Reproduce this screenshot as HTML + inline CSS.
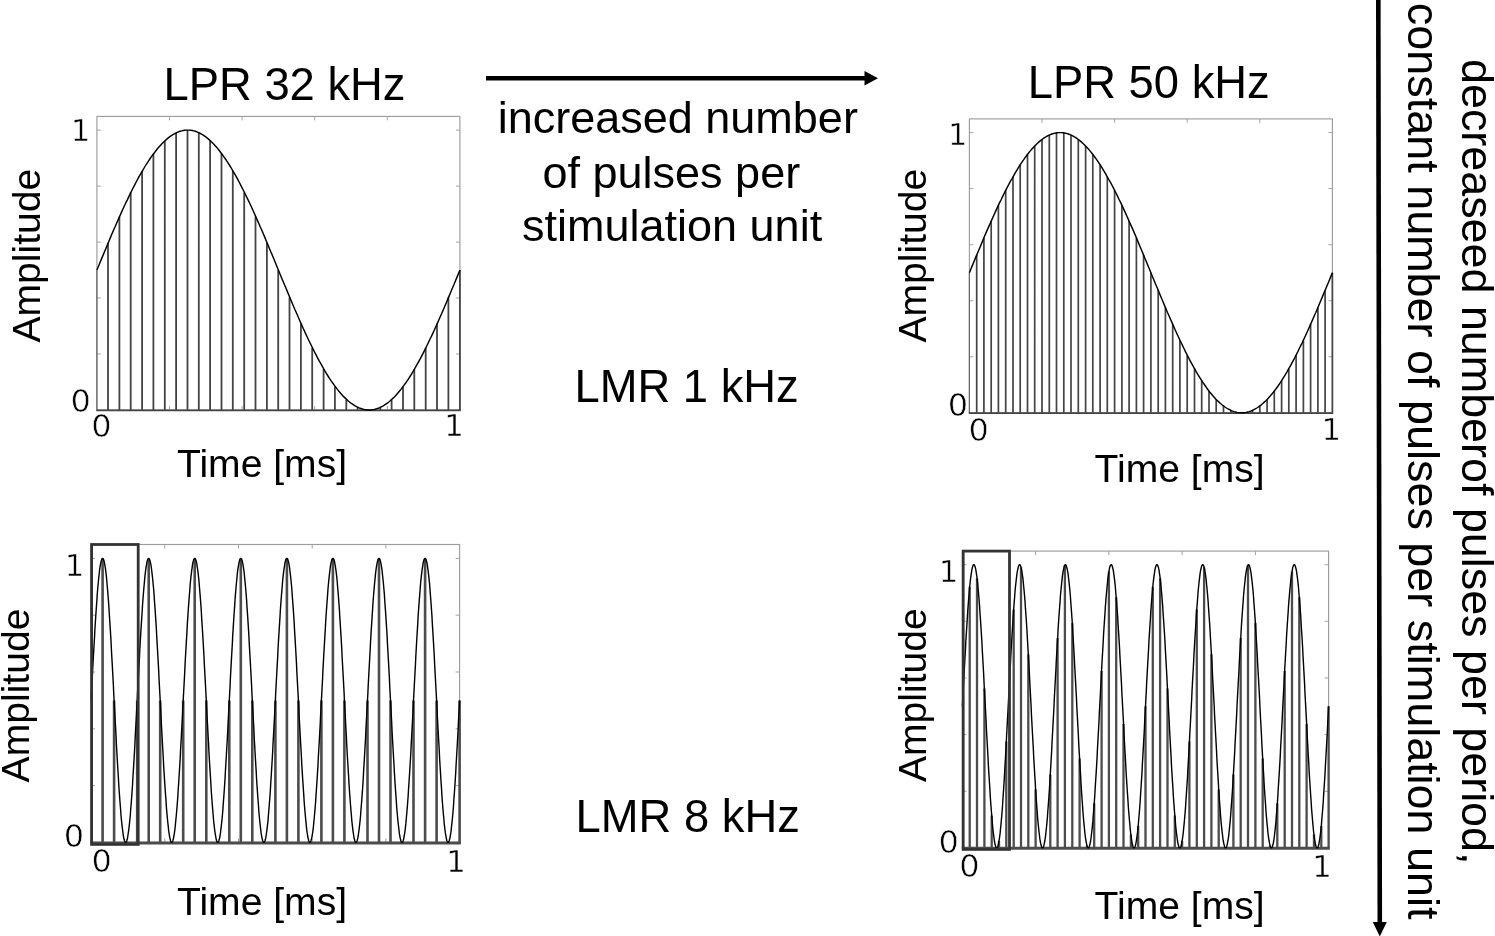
<!DOCTYPE html>
<html lang="en"><head><meta charset="utf-8"><title>LPR / LMR pulse figure</title>
<style>
html,body{margin:0;padding:0;background:#fff;}
body{width:1495px;height:936px;overflow:hidden;}
svg{display:block;}
.a{font-family:"Liberation Sans",sans-serif;fill:#000;}
.t{font-size:45px;}
.h{font-size:45.35px;}
.l{font-size:39.1px;}
.n{font-family:"DejaVu Sans","Liberation Sans",sans-serif;font-size:32px;fill:#000;stroke:#fff;stroke-width:0.55px;}
.o{font-size:30.7px;}
</style></head><body>
<svg width="1495" height="936" viewBox="0 0 1495 936">
<rect x="0" y="0" width="1495" height="936" fill="#fff"/>
<g>
<rect x="96.9" y="116.4" width="363" height="293.6" fill="none" stroke="#9c9c9c" stroke-width="1.15"/>
<path d="M169.5 116.4v4M169.5 410v-4M242.1 116.4v4M242.1 410v-4M314.7 116.4v4M314.7 410v-4M387.3 116.4v4M387.3 410v-4M96.9 410h4M459.9 410h-4M96.9 354h4M459.9 354h-4M96.9 298h4M459.9 298h-4M96.9 242.1h4M459.9 242.1h-4M96.9 186.1h4M459.9 186.1h-4M96.9 130.1h4M459.9 130.1h-4" stroke="#a3a3a3" stroke-width="1" fill="none"/>
<path d="M96.9 410V270.1" stroke="#666" stroke-width="1.2" fill="none"/>
<path d="M108 410V242.7M119.4 410V216.5M130.7 410V192.3M142.1 410V171.1M153.4 410V153.7M164.8 410V140.8M176.1 410V132.8M187.5 410V130.1M198.8 410V132.8M210.1 410V140.8M221.5 410V153.7M232.8 410V171.1M244.2 410V192.3M255.5 410V216.5M266.9 410V242.7M278.2 410V270M289.5 410V297.4M300.9 410V323.6M312.2 410V347.8M323.6 410V369M334.9 410V386.4M346.3 410V399.3M357.6 410V407.3M380.3 410V407.3M391.6 410V399.3M403 410V386.4M414.3 410V369M425.7 410V347.8M437 410V323.6M448.4 410V297.4M459.9 410V270.1" stroke="#444" stroke-width="1.8" fill="none"/>
<path d="M96.3 410.4H460.8" stroke="#444" stroke-width="1.8" fill="none"/>
<path d="M96.9 270.1L98.4 266.4L99.9 262.7L101.4 259.1L103 255.4L104.5 251.8L106 248.2L107.5 244.5L109 241L110.5 237.4L112 233.8L113.5 230.3L115.1 226.8L116.6 223.3L118.1 219.9L119.6 216.5L121.1 213.1L122.6 209.8L124.1 206.5L125.6 203.3L127.2 200.1L128.7 196.9L130.2 193.8L131.7 190.8L133.2 187.8L134.7 184.9L136.2 182L137.7 179.2L139.2 176.4L140.8 173.7L142.3 171.1L143.8 168.5L145.3 166L146.8 163.6L148.3 161.3L149.8 159L151.3 156.8L152.9 154.7L154.4 152.7L155.9 150.7L157.4 148.8L158.9 147.1L160.4 145.4L161.9 143.7L163.4 142.2L165 140.8L166.5 139.4L168 138.1L169.5 136.9L171 135.9L172.5 134.9L174 134L175.6 133.2L177.1 132.4L178.6 131.8L180.1 131.3L181.6 130.9L183.1 130.5L184.6 130.3L186.1 130.1L187.7 130.1L189.2 130.1L190.7 130.3L192.2 130.5L193.7 130.9L195.2 131.3L196.7 131.8L198.2 132.4L199.8 133.2L201.3 134L202.8 134.9L204.3 135.9L205.8 136.9L207.3 138.1L208.8 139.4L210.3 140.8L211.8 142.2L213.4 143.7L214.9 145.4L216.4 147.1L217.9 148.8L219.4 150.7L220.9 152.7L222.4 154.7L223.9 156.8L225.5 159L227 161.3L228.5 163.6L230 166L231.5 168.5L233 171.1L234.5 173.7L236.1 176.4L237.6 179.2L239.1 182L240.6 184.9L242.1 187.8L243.6 190.8L245.1 193.8L246.6 196.9L248.2 200.1L249.7 203.3L251.2 206.5L252.7 209.8L254.2 213.1L255.7 216.5L257.2 219.9L258.7 223.3L260.2 226.8L261.8 230.3L263.3 233.8L264.8 237.4L266.3 241L267.8 244.5L269.3 248.2L270.8 251.8L272.4 255.4L273.9 259.1L275.4 262.7L276.9 266.4L278.4 270L279.9 273.7L281.4 277.4L282.9 281L284.5 284.7L286 288.3L287.5 291.9L289 295.6L290.5 299.1L292 302.7L293.5 306.3L295 309.8L296.6 313.3L298.1 316.8L299.6 320.2L301.1 323.6L302.6 327L304.1 330.3L305.6 333.6L307.1 336.8L308.6 340L310.2 343.2L311.7 346.3L313.2 349.3L314.7 352.3L316.2 355.2L317.7 358.1L319.2 360.9L320.8 363.7L322.3 366.4L323.8 369L325.3 371.6L326.8 374.1L328.3 376.5L329.8 378.8L331.3 381.1L332.9 383.3L334.4 385.4L335.9 387.4L337.4 389.4L338.9 391.3L340.4 393L341.9 394.7L343.4 396.4L345 397.9L346.5 399.3L348 400.7L349.5 402L351 403.2L352.5 404.2L354 405.2L355.5 406.1L357 406.9L358.6 407.7L360.1 408.3L361.6 408.8L363.1 409.2L364.6 409.6L366.1 409.8L367.6 410L369.1 410L370.7 410L372.2 409.8L373.7 409.6L375.2 409.2L376.7 408.8L378.2 408.3L379.7 407.7L381.2 406.9L382.8 406.1L384.3 405.2L385.8 404.2L387.3 403.2L388.8 402L390.3 400.7L391.8 399.3L393.4 397.9L394.9 396.4L396.4 394.7L397.9 393L399.4 391.3L400.9 389.4L402.4 387.4L403.9 385.4L405.5 383.3L407 381.1L408.5 378.8L410 376.5L411.5 374.1L413 371.6L414.5 369L416 366.4L417.5 363.7L419.1 360.9L420.6 358.1L422.1 355.2L423.6 352.3L425.1 349.3L426.6 346.3L428.1 343.2L429.6 340L431.2 336.8L432.7 333.6L434.2 330.3L435.7 327L437.2 323.6L438.7 320.2L440.2 316.8L441.8 313.3L443.3 309.8L444.8 306.3L446.3 302.7L447.8 299.1L449.3 295.6L450.8 291.9L452.3 288.3L453.9 284.7L455.4 281L456.9 277.4L458.4 273.7L459.9 270.1" stroke="#000" stroke-width="1.45" fill="none" stroke-linejoin="round"/>
</g><g>
<rect x="969.4" y="118.9" width="363" height="293.9" fill="none" stroke="#9c9c9c" stroke-width="1.15"/>
<path d="M1042 118.9v4M1042 412.8v-4M1114.6 118.9v4M1114.6 412.8v-4M1187.2 118.9v4M1187.2 412.8v-4M1259.8 118.9v4M1259.8 412.8v-4M969.4 412.8h4M1332.4 412.8h-4M969.4 356.8h4M1332.4 356.8h-4M969.4 300.7h4M1332.4 300.7h-4M969.4 244.7h4M1332.4 244.7h-4M969.4 188.6h4M1332.4 188.6h-4M969.4 132.6h4M1332.4 132.6h-4" stroke="#a3a3a3" stroke-width="1" fill="none"/>
<path d="M969.4 412.8V272.7" stroke="#666" stroke-width="1.2" fill="none"/>
<path d="M976.7 412.8V255.1M983.9 412.8V237.9M991.2 412.8V221.1M998.4 412.8V205.2M1005.7 412.8V190.4M1013 412.8V176.8M1020.2 412.8V164.8M1027.5 412.8V154.4M1034.7 412.8V145.9M1042 412.8V139.5M1049.3 412.8V135.1M1056.5 412.8V132.9M1063.8 412.8V132.9M1071 412.8V135.1M1078.3 412.8V139.5M1085.6 412.8V145.9M1092.8 412.8V154.4M1100.1 412.8V164.8M1107.3 412.8V176.8M1114.6 412.8V190.4M1121.9 412.8V205.2M1129.1 412.8V221.1M1136.4 412.8V237.9M1143.6 412.8V255.1M1150.9 412.8V272.7M1158.2 412.8V290.3M1165.4 412.8V307.5M1172.7 412.8V324.3M1179.9 412.8V340.2M1187.2 412.8V355M1194.5 412.8V368.6M1201.7 412.8V380.6M1209 412.8V391M1216.2 412.8V399.5M1223.5 412.8V405.9M1230.8 412.8V410.3M1252.5 412.8V410.3M1259.8 412.8V405.9M1267.1 412.8V399.5M1274.3 412.8V391M1281.6 412.8V380.6M1288.8 412.8V368.6M1296.1 412.8V355M1303.4 412.8V340.2M1310.6 412.8V324.3M1317.9 412.8V307.5M1325.1 412.8V290.3M1332.4 412.8V272.7" stroke="#444" stroke-width="1.7" fill="none"/>
<path d="M968.8 413.1H1333.2" stroke="#444" stroke-width="1.8" fill="none"/>
<path d="M969.4 272.7L970.9 269L972.4 265.4L973.9 261.7L975.4 258.1L977 254.4L978.5 250.8L980 247.2L981.5 243.6L983 240L984.5 236.4L986 232.9L987.5 229.4L989.1 225.9L990.6 222.5L992.1 219.1L993.6 215.7L995.1 212.4L996.6 209.1L998.1 205.9L999.6 202.6L1001.2 199.5L1002.7 196.4L1004.2 193.3L1005.7 190.4L1007.2 187.4L1008.7 184.5L1010.2 181.7L1011.8 179L1013.3 176.3L1014.8 173.6L1016.3 171.1L1017.8 168.6L1019.3 166.2L1020.8 163.8L1022.3 161.6L1023.9 159.4L1025.4 157.2L1026.9 155.2L1028.4 153.2L1029.9 151.4L1031.4 149.6L1032.9 147.9L1034.4 146.2L1036 144.7L1037.5 143.3L1039 141.9L1040.5 140.6L1042 139.5L1043.5 138.4L1045 137.4L1046.5 136.5L1048 135.7L1049.6 134.9L1051.1 134.3L1052.6 133.8L1054.1 133.4L1055.6 133L1057.1 132.8L1058.6 132.6L1060.2 132.6L1061.7 132.6L1063.2 132.8L1064.7 133L1066.2 133.4L1067.7 133.8L1069.2 134.3L1070.7 134.9L1072.2 135.7L1073.8 136.5L1075.3 137.4L1076.8 138.4L1078.3 139.5L1079.8 140.6L1081.3 141.9L1082.8 143.3L1084.3 144.7L1085.9 146.2L1087.4 147.9L1088.9 149.6L1090.4 151.4L1091.9 153.2L1093.4 155.2L1094.9 157.2L1096.5 159.4L1098 161.6L1099.5 163.8L1101 166.2L1102.5 168.6L1104 171.1L1105.5 173.6L1107 176.3L1108.5 179L1110.1 181.7L1111.6 184.5L1113.1 187.4L1114.6 190.4L1116.1 193.3L1117.6 196.4L1119.1 199.5L1120.7 202.6L1122.2 205.9L1123.7 209.1L1125.2 212.4L1126.7 215.7L1128.2 219.1L1129.7 222.5L1131.2 225.9L1132.8 229.4L1134.3 232.9L1135.8 236.4L1137.3 240L1138.8 243.6L1140.3 247.2L1141.8 250.8L1143.3 254.4L1144.8 258.1L1146.4 261.7L1147.9 265.4L1149.4 269L1150.9 272.7L1152.4 276.4L1153.9 280L1155.4 283.7L1157 287.3L1158.5 291L1160 294.6L1161.5 298.2L1163 301.8L1164.5 305.4L1166 309L1167.5 312.5L1169.1 316L1170.6 319.5L1172.1 322.9L1173.6 326.3L1175.1 329.7L1176.6 333L1178.1 336.3L1179.6 339.5L1181.2 342.8L1182.7 345.9L1184.2 349L1185.7 352.1L1187.2 355L1188.7 358L1190.2 360.9L1191.7 363.7L1193.2 366.4L1194.8 369.1L1196.3 371.8L1197.8 374.3L1199.3 376.8L1200.8 379.2L1202.3 381.6L1203.8 383.8L1205.4 386L1206.9 388.2L1208.4 390.2L1209.9 392.2L1211.4 394L1212.9 395.8L1214.4 397.5L1215.9 399.2L1217.5 400.7L1219 402.1L1220.5 403.5L1222 404.8L1223.5 405.9L1225 407L1226.5 408L1228 408.9L1229.6 409.7L1231.1 410.5L1232.6 411.1L1234.1 411.6L1235.6 412L1237.1 412.4L1238.6 412.6L1240.1 412.8L1241.7 412.8L1243.2 412.8L1244.7 412.6L1246.2 412.4L1247.7 412L1249.2 411.6L1250.7 411.1L1252.2 410.5L1253.8 409.7L1255.3 408.9L1256.8 408L1258.3 407L1259.8 405.9L1261.3 404.8L1262.8 403.5L1264.3 402.1L1265.9 400.7L1267.4 399.2L1268.9 397.5L1270.4 395.8L1271.9 394L1273.4 392.2L1274.9 390.2L1276.4 388.2L1278 386L1279.5 383.8L1281 381.6L1282.5 379.2L1284 376.8L1285.5 374.3L1287 371.8L1288.5 369.1L1290.1 366.4L1291.6 363.7L1293.1 360.9L1294.6 358L1296.1 355L1297.6 352.1L1299.1 349L1300.6 345.9L1302.2 342.8L1303.7 339.5L1305.2 336.3L1306.7 333L1308.2 329.7L1309.7 326.3L1311.2 322.9L1312.7 319.5L1314.2 316L1315.8 312.5L1317.3 309L1318.8 305.4L1320.3 301.8L1321.8 298.2L1323.3 294.6L1324.8 291L1326.4 287.3L1327.9 283.7L1329.4 280L1330.9 276.4L1332.4 272.7" stroke="#000" stroke-width="1.45" fill="none" stroke-linejoin="round"/>
</g><g>
<rect x="91.1" y="544.5" width="368.5" height="297.9" fill="none" stroke="#9c9c9c" stroke-width="1.15"/>
<path d="M164.8 544.5v4M164.8 842.4v-4M238.5 544.5v4M238.5 842.4v-4M312.2 544.5v4M312.2 842.4v-4M385.9 544.5v4M385.9 842.4v-4M91.1 842.4h4M459.6 842.4h-4M91.1 785.6h4M459.6 785.6h-4M91.1 728.8h4M459.6 728.8h-4M91.1 672h4M459.6 672h-4M91.1 615.2h4M459.6 615.2h-4M91.1 558.4h4M459.6 558.4h-4" stroke="#a3a3a3" stroke-width="1" fill="none"/>
<path d="M102.6 842.4V558.4M114.1 842.4V700.4M137.2 842.4V700.4M148.7 842.4V558.4M160.2 842.4V700.4M183.2 842.4V700.4M194.7 842.4V558.4M206.3 842.4V700.4M229.3 842.4V700.4M240.8 842.4V558.4M252.3 842.4V700.4M275.4 842.4V700.4M286.9 842.4V558.4M298.4 842.4V700.4M321.4 842.4V700.4M332.9 842.4V558.4M344.4 842.4V700.4M367.5 842.4V700.4M379 842.4V558.4M390.5 842.4V700.4M413.5 842.4V700.4M425.1 842.4V558.4M436.6 842.4V700.4M459.6 842.4V700.4" stroke="#4c4c4c" stroke-width="2.6" fill="none"/>
<path d="M90.5 843H460.9" stroke="#4c4c4c" stroke-width="3.0" fill="none"/>
<path d="M91.1 700.4L91.5 693L91.9 685.6L92.3 678.2L92.6 670.9L93 663.6L93.4 656.5L93.8 649.5L94.2 642.6L94.6 635.9L94.9 629.4L95.3 623.1L95.7 616.9L96.1 611L96.5 605.4L96.9 600L97.2 594.9L97.6 590L98 585.5L98.4 581.3L98.8 577.4L99.2 573.9L99.5 570.7L99.9 567.8L100.3 565.3L100.7 563.2L101.1 561.5L101.5 560.1L101.8 559.2L102.2 558.6L102.6 558.4L103 558.6L103.4 559.2L103.8 560.1L104.2 561.5L104.5 563.2L104.9 565.3L105.3 567.8L105.7 570.7L106.1 573.9L106.5 577.4L106.8 581.3L107.2 585.5L107.6 590L108 594.9L108.4 600L108.8 605.4L109.1 611L109.5 616.9L109.9 623.1L110.3 629.4L110.7 635.9L111.1 642.6L111.4 649.5L111.8 656.5L112.2 663.6L112.6 670.9L113 678.2L113.4 685.6L113.7 693L114.1 700.4L114.5 707.8L114.9 715.2L115.3 722.6L115.7 729.9L116.1 737.2L116.4 744.3L116.8 751.3L117.2 758.2L117.6 764.9L118 771.4L118.4 777.7L118.7 783.9L119.1 789.8L119.5 795.4L119.9 800.8L120.3 805.9L120.7 810.8L121 815.3L121.4 819.5L121.8 823.4L122.2 826.9L122.6 830.1L123 833L123.3 835.5L123.7 837.6L124.1 839.3L124.5 840.7L124.9 841.6L125.3 842.2L125.6 842.4L126 842.2L126.4 841.6L126.8 840.7L127.2 839.3L127.6 837.6L127.9 835.5L128.3 833L128.7 830.1L129.1 826.9L129.5 823.4L129.9 819.5L130.3 815.3L130.6 810.8L131 805.9L131.4 800.8L131.8 795.4L132.2 789.8L132.6 783.9L132.9 777.7L133.3 771.4L133.7 764.9L134.1 758.2L134.5 751.3L134.9 744.3L135.2 737.2L135.6 729.9L136 722.6L136.4 715.2L136.8 707.8L137.2 700.4L137.5 693L137.9 685.6L138.3 678.2L138.7 670.9L139.1 663.6L139.5 656.5L139.8 649.5L140.2 642.6L140.6 635.9L141 629.4L141.4 623.1L141.8 616.9L142.2 611L142.5 605.4L142.9 600L143.3 594.9L143.7 590L144.1 585.5L144.5 581.3L144.8 577.4L145.2 573.9L145.6 570.7L146 567.8L146.4 565.3L146.8 563.2L147.1 561.5L147.5 560.1L147.9 559.2L148.3 558.6L148.7 558.4L149.1 558.6L149.4 559.2L149.8 560.1L150.2 561.5L150.6 563.2L151 565.3L151.4 567.8L151.7 570.7L152.1 573.9L152.5 577.4L152.9 581.3L153.3 585.5L153.7 590L154.1 594.9L154.4 600L154.8 605.4L155.2 611L155.6 616.9L156 623.1L156.4 629.4L156.7 635.9L157.1 642.6L157.5 649.5L157.9 656.5L158.3 663.6L158.7 670.9L159 678.2L159.4 685.6L159.8 693L160.2 700.4L160.6 707.8L161 715.2L161.3 722.6L161.7 729.9L162.1 737.2L162.5 744.3L162.9 751.3L163.3 758.2L163.6 764.9L164 771.4L164.4 777.7L164.8 783.9L165.2 789.8L165.6 795.4L166 800.8L166.3 805.9L166.7 810.8L167.1 815.3L167.5 819.5L167.9 823.4L168.3 826.9L168.6 830.1L169 833L169.4 835.5L169.8 837.6L170.2 839.3L170.6 840.7L170.9 841.6L171.3 842.2L171.7 842.4L172.1 842.2L172.5 841.6L172.9 840.7L173.2 839.3L173.6 837.6L174 835.5L174.4 833L174.8 830.1L175.2 826.9L175.5 823.4L175.9 819.5L176.3 815.3L176.7 810.8L177.1 805.9L177.5 800.8L177.9 795.4L178.2 789.8L178.6 783.9L179 777.7L179.4 771.4L179.8 764.9L180.2 758.2L180.5 751.3L180.9 744.3L181.3 737.2L181.7 729.9L182.1 722.6L182.5 715.2L182.8 707.8L183.2 700.4L183.6 693L184 685.6L184.4 678.2L184.8 670.9L185.1 663.6L185.5 656.5L185.9 649.5L186.3 642.6L186.7 635.9L187.1 629.4L187.4 623.1L187.8 616.9L188.2 611L188.6 605.4L189 600L189.4 594.9L189.8 590L190.1 585.5L190.5 581.3L190.9 577.4L191.3 573.9L191.7 570.7L192.1 567.8L192.4 565.3L192.8 563.2L193.2 561.5L193.6 560.1L194 559.2L194.4 558.6L194.7 558.4L195.1 558.6L195.5 559.2L195.9 560.1L196.3 561.5L196.7 563.2L197 565.3L197.4 567.8L197.8 570.7L198.2 573.9L198.6 577.4L199 581.3L199.3 585.5L199.7 590L200.1 594.9L200.5 600L200.9 605.4L201.3 611L201.6 616.9L202 623.1L202.4 629.4L202.8 635.9L203.2 642.6L203.6 649.5L204 656.5L204.3 663.6L204.7 670.9L205.1 678.2L205.5 685.6L205.9 693L206.3 700.4L206.6 707.8L207 715.2L207.4 722.6L207.8 729.9L208.2 737.2L208.6 744.3L208.9 751.3L209.3 758.2L209.7 764.9L210.1 771.4L210.5 777.7L210.9 783.9L211.2 789.8L211.6 795.4L212 800.8L212.4 805.9L212.8 810.8L213.2 815.3L213.5 819.5L213.9 823.4L214.3 826.9L214.7 830.1L215.1 833L215.5 835.5L215.9 837.6L216.2 839.3L216.6 840.7L217 841.6L217.4 842.2L217.8 842.4L218.2 842.2L218.5 841.6L218.9 840.7L219.3 839.3L219.7 837.6L220.1 835.5L220.5 833L220.8 830.1L221.2 826.9L221.6 823.4L222 819.5L222.4 815.3L222.8 810.8L223.1 805.9L223.5 800.8L223.9 795.4L224.3 789.8L224.7 783.9L225.1 777.7L225.4 771.4L225.8 764.9L226.2 758.2L226.6 751.3L227 744.3L227.4 737.2L227.8 729.9L228.1 722.6L228.5 715.2L228.9 707.8L229.3 700.4L229.7 693L230.1 685.6L230.4 678.2L230.8 670.9L231.2 663.6L231.6 656.5L232 649.5L232.4 642.6L232.7 635.9L233.1 629.4L233.5 623.1L233.9 616.9L234.3 611L234.7 605.4L235 600L235.4 594.9L235.8 590L236.2 585.5L236.6 581.3L237 577.4L237.3 573.9L237.7 570.7L238.1 567.8L238.5 565.3L238.9 563.2L239.3 561.5L239.7 560.1L240 559.2L240.4 558.6L240.8 558.4L241.2 558.6L241.6 559.2L242 560.1L242.3 561.5L242.7 563.2L243.1 565.3L243.5 567.8L243.9 570.7L244.3 573.9L244.6 577.4L245 581.3L245.4 585.5L245.8 590L246.2 594.9L246.6 600L246.9 605.4L247.3 611L247.7 616.9L248.1 623.1L248.5 629.4L248.9 635.9L249.2 642.6L249.6 649.5L250 656.5L250.4 663.6L250.8 670.9L251.2 678.2L251.6 685.6L251.9 693L252.3 700.4L252.7 707.8L253.1 715.2L253.5 722.6L253.9 729.9L254.2 737.2L254.6 744.3L255 751.3L255.4 758.2L255.8 764.9L256.2 771.4L256.5 777.7L256.9 783.9L257.3 789.8L257.7 795.4L258.1 800.8L258.5 805.9L258.8 810.8L259.2 815.3L259.6 819.5L260 823.4L260.4 826.9L260.8 830.1L261.1 833L261.5 835.5L261.9 837.6L262.3 839.3L262.7 840.7L263.1 841.6L263.5 842.2L263.8 842.4L264.2 842.2L264.6 841.6L265 840.7L265.4 839.3L265.8 837.6L266.1 835.5L266.5 833L266.9 830.1L267.3 826.9L267.7 823.4L268.1 819.5L268.4 815.3L268.8 810.8L269.2 805.9L269.6 800.8L270 795.4L270.4 789.8L270.7 783.9L271.1 777.7L271.5 771.4L271.9 764.9L272.3 758.2L272.7 751.3L273 744.3L273.4 737.2L273.8 729.9L274.2 722.6L274.6 715.2L275 707.8L275.4 700.4L275.7 693L276.1 685.6L276.5 678.2L276.9 670.9L277.3 663.6L277.7 656.5L278 649.5L278.4 642.6L278.8 635.9L279.2 629.4L279.6 623.1L280 616.9L280.3 611L280.7 605.4L281.1 600L281.5 594.9L281.9 590L282.3 585.5L282.6 581.3L283 577.4L283.4 573.9L283.8 570.7L284.2 567.8L284.6 565.3L284.9 563.2L285.3 561.5L285.7 560.1L286.1 559.2L286.5 558.6L286.9 558.4L287.2 558.6L287.6 559.2L288 560.1L288.4 561.5L288.8 563.2L289.2 565.3L289.6 567.8L289.9 570.7L290.3 573.9L290.7 577.4L291.1 581.3L291.5 585.5L291.9 590L292.2 594.9L292.6 600L293 605.4L293.4 611L293.8 616.9L294.2 623.1L294.5 629.4L294.9 635.9L295.3 642.6L295.7 649.5L296.1 656.5L296.5 663.6L296.8 670.9L297.2 678.2L297.6 685.6L298 693L298.4 700.4L298.8 707.8L299.1 715.2L299.5 722.6L299.9 729.9L300.3 737.2L300.7 744.3L301.1 751.3L301.5 758.2L301.8 764.9L302.2 771.4L302.6 777.7L303 783.9L303.4 789.8L303.8 795.4L304.1 800.8L304.5 805.9L304.9 810.8L305.3 815.3L305.7 819.5L306.1 823.4L306.4 826.9L306.8 830.1L307.2 833L307.6 835.5L308 837.6L308.4 839.3L308.7 840.7L309.1 841.6L309.5 842.2L309.9 842.4L310.3 842.2L310.7 841.6L311 840.7L311.4 839.3L311.8 837.6L312.2 835.5L312.6 833L313 830.1L313.4 826.9L313.7 823.4L314.1 819.5L314.5 815.3L314.9 810.8L315.3 805.9L315.7 800.8L316 795.4L316.4 789.8L316.8 783.9L317.2 777.7L317.6 771.4L318 764.9L318.3 758.2L318.7 751.3L319.1 744.3L319.5 737.2L319.9 729.9L320.3 722.6L320.6 715.2L321 707.8L321.4 700.4L321.8 693L322.2 685.6L322.6 678.2L322.9 670.9L323.3 663.6L323.7 656.5L324.1 649.5L324.5 642.6L324.9 635.9L325.3 629.4L325.6 623.1L326 616.9L326.4 611L326.8 605.4L327.2 600L327.6 594.9L327.9 590L328.3 585.5L328.7 581.3L329.1 577.4L329.5 573.9L329.9 570.7L330.2 567.8L330.6 565.3L331 563.2L331.4 561.5L331.8 560.1L332.2 559.2L332.5 558.6L332.9 558.4L333.3 558.6L333.7 559.2L334.1 560.1L334.5 561.5L334.8 563.2L335.2 565.3L335.6 567.8L336 570.7L336.4 573.9L336.8 577.4L337.2 581.3L337.5 585.5L337.9 590L338.3 594.9L338.7 600L339.1 605.4L339.5 611L339.8 616.9L340.2 623.1L340.6 629.4L341 635.9L341.4 642.6L341.8 649.5L342.1 656.5L342.5 663.6L342.9 670.9L343.3 678.2L343.7 685.6L344.1 693L344.4 700.4L344.8 707.8L345.2 715.2L345.6 722.6L346 729.9L346.4 737.2L346.7 744.3L347.1 751.3L347.5 758.2L347.9 764.9L348.3 771.4L348.7 777.7L349 783.9L349.4 789.8L349.8 795.4L350.2 800.8L350.6 805.9L351 810.8L351.4 815.3L351.7 819.5L352.1 823.4L352.5 826.9L352.9 830.1L353.3 833L353.7 835.5L354 837.6L354.4 839.3L354.8 840.7L355.2 841.6L355.6 842.2L356 842.4L356.3 842.2L356.7 841.6L357.1 840.7L357.5 839.3L357.9 837.6L358.3 835.5L358.6 833L359 830.1L359.4 826.9L359.8 823.4L360.2 819.5L360.6 815.3L360.9 810.8L361.3 805.9L361.7 800.8L362.1 795.4L362.5 789.8L362.9 783.9L363.3 777.7L363.6 771.4L364 764.9L364.4 758.2L364.8 751.3L365.2 744.3L365.6 737.2L365.9 729.9L366.3 722.6L366.7 715.2L367.1 707.8L367.5 700.4L367.9 693L368.2 685.6L368.6 678.2L369 670.9L369.4 663.6L369.8 656.5L370.2 649.5L370.5 642.6L370.9 635.9L371.3 629.4L371.7 623.1L372.1 616.9L372.5 611L372.8 605.4L373.2 600L373.6 594.9L374 590L374.4 585.5L374.8 581.3L375.2 577.4L375.5 573.9L375.9 570.7L376.3 567.8L376.7 565.3L377.1 563.2L377.5 561.5L377.8 560.1L378.2 559.2L378.6 558.6L379 558.4L379.4 558.6L379.8 559.2L380.1 560.1L380.5 561.5L380.9 563.2L381.3 565.3L381.7 567.8L382.1 570.7L382.4 573.9L382.8 577.4L383.2 581.3L383.6 585.5L384 590L384.4 594.9L384.7 600L385.1 605.4L385.5 611L385.9 616.9L386.3 623.1L386.7 629.4L387.1 635.9L387.4 642.6L387.8 649.5L388.2 656.5L388.6 663.6L389 670.9L389.4 678.2L389.7 685.6L390.1 693L390.5 700.4L390.9 707.8L391.3 715.2L391.7 722.6L392 729.9L392.4 737.2L392.8 744.3L393.2 751.3L393.6 758.2L394 764.9L394.3 771.4L394.7 777.7L395.1 783.9L395.5 789.8L395.9 795.4L396.3 800.8L396.6 805.9L397 810.8L397.4 815.3L397.8 819.5L398.2 823.4L398.6 826.9L399 830.1L399.3 833L399.7 835.5L400.1 837.6L400.5 839.3L400.9 840.7L401.3 841.6L401.6 842.2L402 842.4L402.4 842.2L402.8 841.6L403.2 840.7L403.6 839.3L403.9 837.6L404.3 835.5L404.7 833L405.1 830.1L405.5 826.9L405.9 823.4L406.2 819.5L406.6 815.3L407 810.8L407.4 805.9L407.8 800.8L408.2 795.4L408.5 789.8L408.9 783.9L409.3 777.7L409.7 771.4L410.1 764.9L410.5 758.2L410.9 751.3L411.2 744.3L411.6 737.2L412 729.9L412.4 722.6L412.8 715.2L413.2 707.8L413.5 700.4L413.9 693L414.3 685.6L414.7 678.2L415.1 670.9L415.5 663.6L415.8 656.5L416.2 649.5L416.6 642.6L417 635.9L417.4 629.4L417.8 623.1L418.1 616.9L418.5 611L418.9 605.4L419.3 600L419.7 594.9L420.1 590L420.4 585.5L420.8 581.3L421.2 577.4L421.6 573.9L422 570.7L422.4 567.8L422.8 565.3L423.1 563.2L423.5 561.5L423.9 560.1L424.3 559.2L424.7 558.6L425.1 558.4L425.4 558.6L425.8 559.2L426.2 560.1L426.6 561.5L427 563.2L427.4 565.3L427.7 567.8L428.1 570.7L428.5 573.9L428.9 577.4L429.3 581.3L429.7 585.5L430 590L430.4 594.9L430.8 600L431.2 605.4L431.6 611L432 616.9L432.3 623.1L432.7 629.4L433.1 635.9L433.5 642.6L433.9 649.5L434.3 656.5L434.6 663.6L435 670.9L435.4 678.2L435.8 685.6L436.2 693L436.6 700.4L437 707.8L437.3 715.2L437.7 722.6L438.1 729.9L438.5 737.2L438.9 744.3L439.3 751.3L439.6 758.2L440 764.9L440.4 771.4L440.8 777.7L441.2 783.9L441.6 789.8L441.9 795.4L442.3 800.8L442.7 805.9L443.1 810.8L443.5 815.3L443.9 819.5L444.2 823.4L444.6 826.9L445 830.1L445.4 833L445.8 835.5L446.2 837.6L446.5 839.3L446.9 840.7L447.3 841.6L447.7 842.2L448.1 842.4L448.5 842.2L448.9 841.6L449.2 840.7L449.6 839.3L450 837.6L450.4 835.5L450.8 833L451.2 830.1L451.5 826.9L451.9 823.4L452.3 819.5L452.7 815.3L453.1 810.8L453.5 805.9L453.8 800.8L454.2 795.4L454.6 789.8L455 783.9L455.4 777.7L455.8 771.4L456.1 764.9L456.5 758.2L456.9 751.3L457.3 744.3L457.7 737.2L458.1 729.9L458.4 722.6L458.8 715.2L459.2 707.8L459.6 700.4" stroke="#000" stroke-width="1.4" fill="none" stroke-linejoin="round"/>
<rect x="91.6" y="544.5" width="46.6" height="299.9" fill="none" stroke="#333" stroke-width="2.8"/>
</g><g>
<rect x="962.4" y="551.1" width="366.2" height="296.8" fill="none" stroke="#9c9c9c" stroke-width="1.15"/>
<path d="M1035.6 551.1v4M1035.6 847.9v-4M1108.9 551.1v4M1108.9 847.9v-4M1182.1 551.1v4M1182.1 847.9v-4M1255.4 551.1v4M1255.4 847.9v-4M962.4 847.9h4M1328.6 847.9h-4M962.4 791.3h4M1328.6 791.3h-4M962.4 734.6h4M1328.6 734.6h-4M962.4 678h4M1328.6 678h-4M962.4 621.3h4M1328.6 621.3h-4M962.4 564.7h4M1328.6 564.7h-4" stroke="#a3a3a3" stroke-width="1" fill="none"/>
<path d="M969.7 847.9V586.7M977 847.9V578.2M984.4 847.9V688.6M991.7 847.9V815.4M999 847.9V841M1006.3 847.9V741.5M1013.7 847.9V609.4M1021 847.9V567.2M1028.3 847.9V654.2M1035.6 847.9V789.5M1050.3 847.9V774.5M1057.6 847.9V638.1M1064.9 847.9V565M1072.3 847.9V623.1M1079.6 847.9V758.4M1086.9 847.9V845.4M1094.2 847.9V803.2M1101.6 847.9V671.1M1108.9 847.9V571.6M1116.2 847.9V597.2M1123.5 847.9V724M1130.9 847.9V834.4M1138.2 847.9V825.9M1145.5 847.9V706.3M1152.8 847.9V586.7M1160.1 847.9V578.2M1167.5 847.9V688.6M1174.8 847.9V815.4M1182.1 847.9V841M1189.4 847.9V741.5M1196.8 847.9V609.4M1204.1 847.9V567.2M1211.4 847.9V654.2M1218.7 847.9V789.5M1233.4 847.9V774.5M1240.7 847.9V638.1M1248 847.9V565M1255.4 847.9V623.1M1262.7 847.9V758.4M1270 847.9V845.4M1277.3 847.9V803.2M1284.7 847.9V671.1M1292 847.9V571.6M1299.3 847.9V597.2M1306.6 847.9V724M1314 847.9V834.4M1321.3 847.9V825.9M1328.6 847.9V706.3" stroke="#4c4c4c" stroke-width="2.3" fill="none"/>
<path d="M961.8 848.2H1329.8" stroke="#4c4c4c" stroke-width="3.0" fill="none"/>
<path d="M962.4 706.3L962.8 698.9L963.2 691.5L963.5 684.1L963.9 676.9L964.3 669.7L964.7 662.5L965.1 655.6L965.5 648.7L965.8 642L966.2 635.5L966.6 629.2L967 623.1L967.4 617.2L967.7 611.6L968.1 606.2L968.5 601.1L968.9 596.3L969.3 591.7L969.6 587.5L970 583.7L970.4 580.1L970.8 576.9L971.2 574.1L971.6 571.6L971.9 569.5L972.3 567.8L972.7 566.4L973.1 565.5L973.5 564.9L973.8 564.7L974.2 564.9L974.6 565.5L975 566.4L975.4 567.8L975.8 569.5L976.1 571.6L976.5 574.1L976.9 576.9L977.3 580.1L977.7 583.7L978 587.5L978.4 591.7L978.8 596.3L979.2 601.1L979.6 606.2L979.9 611.6L980.3 617.2L980.7 623.1L981.1 629.2L981.5 635.5L981.9 642L982.2 648.7L982.6 655.6L983 662.5L983.4 669.7L983.8 676.9L984.1 684.1L984.5 691.5L984.9 698.9L985.3 706.3L985.7 713.7L986.1 721.1L986.4 728.5L986.8 735.7L987.2 742.9L987.6 750.1L988 757L988.3 763.9L988.7 770.6L989.1 777.1L989.5 783.4L989.9 789.5L990.2 795.4L990.6 801L991 806.4L991.4 811.5L991.8 816.3L992.2 820.9L992.5 825.1L992.9 828.9L993.3 832.5L993.7 835.7L994.1 838.5L994.4 841L994.8 843.1L995.2 844.8L995.6 846.2L996 847.1L996.3 847.7L996.7 847.9L997.1 847.7L997.5 847.1L997.9 846.2L998.3 844.8L998.6 843.1L999 841L999.4 838.5L999.8 835.7L1000.2 832.5L1000.5 828.9L1000.9 825.1L1001.3 820.9L1001.7 816.3L1002.1 811.5L1002.5 806.4L1002.8 801L1003.2 795.4L1003.6 789.5L1004 783.4L1004.4 777.1L1004.7 770.6L1005.1 763.9L1005.5 757L1005.9 750.1L1006.3 742.9L1006.6 735.7L1007 728.5L1007.4 721.1L1007.8 713.7L1008.2 706.3L1008.6 698.9L1008.9 691.5L1009.3 684.1L1009.7 676.9L1010.1 669.7L1010.5 662.5L1010.8 655.6L1011.2 648.7L1011.6 642L1012 635.5L1012.4 629.2L1012.8 623.1L1013.1 617.2L1013.5 611.6L1013.9 606.2L1014.3 601.1L1014.7 596.3L1015 591.7L1015.4 587.5L1015.8 583.7L1016.2 580.1L1016.6 576.9L1016.9 574.1L1017.3 571.6L1017.7 569.5L1018.1 567.8L1018.5 566.4L1018.9 565.5L1019.2 564.9L1019.6 564.7L1020 564.9L1020.4 565.5L1020.8 566.4L1021.1 567.8L1021.5 569.5L1021.9 571.6L1022.3 574.1L1022.7 576.9L1023.1 580.1L1023.4 583.7L1023.8 587.5L1024.2 591.7L1024.6 596.3L1025 601.1L1025.3 606.2L1025.7 611.6L1026.1 617.2L1026.5 623.1L1026.9 629.2L1027.2 635.5L1027.6 642L1028 648.7L1028.4 655.6L1028.8 662.5L1029.2 669.7L1029.5 676.9L1029.9 684.1L1030.3 691.5L1030.7 698.9L1031.1 706.3L1031.4 713.7L1031.8 721.1L1032.2 728.5L1032.6 735.7L1033 742.9L1033.4 750.1L1033.7 757L1034.1 763.9L1034.5 770.6L1034.9 777.1L1035.3 783.4L1035.6 789.5L1036 795.4L1036.4 801L1036.8 806.4L1037.2 811.5L1037.5 816.3L1037.9 820.9L1038.3 825.1L1038.7 828.9L1039.1 832.5L1039.5 835.7L1039.8 838.5L1040.2 841L1040.6 843.1L1041 844.8L1041.4 846.2L1041.7 847.1L1042.1 847.7L1042.5 847.9L1042.9 847.7L1043.3 847.1L1043.7 846.2L1044 844.8L1044.4 843.1L1044.8 841L1045.2 838.5L1045.6 835.7L1045.9 832.5L1046.3 828.9L1046.7 825.1L1047.1 820.9L1047.5 816.3L1047.8 811.5L1048.2 806.4L1048.6 801L1049 795.4L1049.4 789.5L1049.8 783.4L1050.1 777.1L1050.5 770.6L1050.9 763.9L1051.3 757L1051.7 750.1L1052 742.9L1052.4 735.7L1052.8 728.5L1053.2 721.1L1053.6 713.7L1054 706.3L1054.3 698.9L1054.7 691.5L1055.1 684.1L1055.5 676.9L1055.9 669.7L1056.2 662.5L1056.6 655.6L1057 648.7L1057.4 642L1057.8 635.5L1058.1 629.2L1058.5 623.1L1058.9 617.2L1059.3 611.6L1059.7 606.2L1060.1 601.1L1060.4 596.3L1060.8 591.7L1061.2 587.5L1061.6 583.7L1062 580.1L1062.3 576.9L1062.7 574.1L1063.1 571.6L1063.5 569.5L1063.9 567.8L1064.2 566.4L1064.6 565.5L1065 564.9L1065.4 564.7L1065.8 564.9L1066.2 565.5L1066.5 566.4L1066.9 567.8L1067.3 569.5L1067.7 571.6L1068.1 574.1L1068.4 576.9L1068.8 580.1L1069.2 583.7L1069.6 587.5L1070 591.7L1070.4 596.3L1070.7 601.1L1071.1 606.2L1071.5 611.6L1071.9 617.2L1072.3 623.1L1072.6 629.2L1073 635.5L1073.4 642L1073.8 648.7L1074.2 655.6L1074.5 662.5L1074.9 669.7L1075.3 676.9L1075.7 684.1L1076.1 691.5L1076.5 698.9L1076.8 706.3L1077.2 713.7L1077.6 721.1L1078 728.5L1078.4 735.7L1078.7 742.9L1079.1 750.1L1079.5 757L1079.9 763.9L1080.3 770.6L1080.7 777.1L1081 783.4L1081.4 789.5L1081.8 795.4L1082.2 801L1082.6 806.4L1082.9 811.5L1083.3 816.3L1083.7 820.9L1084.1 825.1L1084.5 828.9L1084.8 832.5L1085.2 835.7L1085.6 838.5L1086 841L1086.4 843.1L1086.8 844.8L1087.1 846.2L1087.5 847.1L1087.9 847.7L1088.3 847.9L1088.7 847.7L1089 847.1L1089.4 846.2L1089.8 844.8L1090.2 843.1L1090.6 841L1091 838.5L1091.3 835.7L1091.7 832.5L1092.1 828.9L1092.5 825.1L1092.9 820.9L1093.2 816.3L1093.6 811.5L1094 806.4L1094.4 801L1094.8 795.4L1095.1 789.5L1095.5 783.4L1095.9 777.1L1096.3 770.6L1096.7 763.9L1097.1 757L1097.4 750.1L1097.8 742.9L1098.2 735.7L1098.6 728.5L1099 721.1L1099.3 713.7L1099.7 706.3L1100.1 698.9L1100.5 691.5L1100.9 684.1L1101.3 676.9L1101.6 669.7L1102 662.5L1102.4 655.6L1102.8 648.7L1103.2 642L1103.5 635.5L1103.9 629.2L1104.3 623.1L1104.7 617.2L1105.1 611.6L1105.4 606.2L1105.8 601.1L1106.2 596.3L1106.6 591.7L1107 587.5L1107.4 583.7L1107.7 580.1L1108.1 576.9L1108.5 574.1L1108.9 571.6L1109.3 569.5L1109.6 567.8L1110 566.4L1110.4 565.5L1110.8 564.9L1111.2 564.7L1111.6 564.9L1111.9 565.5L1112.3 566.4L1112.7 567.8L1113.1 569.5L1113.5 571.6L1113.8 574.1L1114.2 576.9L1114.6 580.1L1115 583.7L1115.4 587.5L1115.7 591.7L1116.1 596.3L1116.5 601.1L1116.9 606.2L1117.3 611.6L1117.7 617.2L1118 623.1L1118.4 629.2L1118.8 635.5L1119.2 642L1119.6 648.7L1119.9 655.6L1120.3 662.5L1120.7 669.7L1121.1 676.9L1121.5 684.1L1121.8 691.5L1122.2 698.9L1122.6 706.3L1123 713.7L1123.4 721.1L1123.8 728.5L1124.1 735.7L1124.5 742.9L1124.9 750.1L1125.3 757L1125.7 763.9L1126 770.6L1126.4 777.1L1126.8 783.4L1127.2 789.5L1127.6 795.4L1128 801L1128.3 806.4L1128.7 811.5L1129.1 816.3L1129.5 820.9L1129.9 825.1L1130.2 828.9L1130.6 832.5L1131 835.7L1131.4 838.5L1131.8 841L1132.1 843.1L1132.5 844.8L1132.9 846.2L1133.3 847.1L1133.7 847.7L1134.1 847.9L1134.4 847.7L1134.8 847.1L1135.2 846.2L1135.6 844.8L1136 843.1L1136.3 841L1136.7 838.5L1137.1 835.7L1137.5 832.5L1137.9 828.9L1138.3 825.1L1138.6 820.9L1139 816.3L1139.4 811.5L1139.8 806.4L1140.2 801L1140.5 795.4L1140.9 789.5L1141.3 783.4L1141.7 777.1L1142.1 770.6L1142.4 763.9L1142.8 757L1143.2 750.1L1143.6 742.9L1144 735.7L1144.4 728.5L1144.7 721.1L1145.1 713.7L1145.5 706.3L1145.9 698.9L1146.3 691.5L1146.6 684.1L1147 676.9L1147.4 669.7L1147.8 662.5L1148.2 655.6L1148.6 648.7L1148.9 642L1149.3 635.5L1149.7 629.2L1150.1 623.1L1150.5 617.2L1150.8 611.6L1151.2 606.2L1151.6 601.1L1152 596.3L1152.4 591.7L1152.7 587.5L1153.1 583.7L1153.5 580.1L1153.9 576.9L1154.3 574.1L1154.7 571.6L1155 569.5L1155.4 567.8L1155.8 566.4L1156.2 565.5L1156.6 564.9L1156.9 564.7L1157.3 564.9L1157.7 565.5L1158.1 566.4L1158.5 567.8L1158.9 569.5L1159.2 571.6L1159.6 574.1L1160 576.9L1160.4 580.1L1160.8 583.7L1161.1 587.5L1161.5 591.7L1161.9 596.3L1162.3 601.1L1162.7 606.2L1163 611.6L1163.4 617.2L1163.8 623.1L1164.2 629.2L1164.6 635.5L1165 642L1165.3 648.7L1165.7 655.6L1166.1 662.5L1166.5 669.7L1166.9 676.9L1167.2 684.1L1167.6 691.5L1168 698.9L1168.4 706.3L1168.8 713.7L1169.2 721.1L1169.5 728.5L1169.9 735.7L1170.3 742.9L1170.7 750.1L1171.1 757L1171.4 763.9L1171.8 770.6L1172.2 777.1L1172.6 783.4L1173 789.5L1173.3 795.4L1173.7 801L1174.1 806.4L1174.5 811.5L1174.9 816.3L1175.3 820.9L1175.6 825.1L1176 828.9L1176.4 832.5L1176.8 835.7L1177.2 838.5L1177.5 841L1177.9 843.1L1178.3 844.8L1178.7 846.2L1179.1 847.1L1179.4 847.7L1179.8 847.9L1180.2 847.7L1180.6 847.1L1181 846.2L1181.4 844.8L1181.7 843.1L1182.1 841L1182.5 838.5L1182.9 835.7L1183.3 832.5L1183.6 828.9L1184 825.1L1184.4 820.9L1184.8 816.3L1185.2 811.5L1185.6 806.4L1185.9 801L1186.3 795.4L1186.7 789.5L1187.1 783.4L1187.5 777.1L1187.8 770.6L1188.2 763.9L1188.6 757L1189 750.1L1189.4 742.9L1189.7 735.7L1190.1 728.5L1190.5 721.1L1190.9 713.7L1191.3 706.3L1191.7 698.9L1192 691.5L1192.4 684.1L1192.8 676.9L1193.2 669.7L1193.6 662.5L1193.9 655.6L1194.3 648.7L1194.7 642L1195.1 635.5L1195.5 629.2L1195.9 623.1L1196.2 617.2L1196.6 611.6L1197 606.2L1197.4 601.1L1197.8 596.3L1198.1 591.7L1198.5 587.5L1198.9 583.7L1199.3 580.1L1199.7 576.9L1200 574.1L1200.4 571.6L1200.8 569.5L1201.2 567.8L1201.6 566.4L1202 565.5L1202.3 564.9L1202.7 564.7L1203.1 564.9L1203.5 565.5L1203.9 566.4L1204.2 567.8L1204.6 569.5L1205 571.6L1205.4 574.1L1205.8 576.9L1206.2 580.1L1206.5 583.7L1206.9 587.5L1207.3 591.7L1207.7 596.3L1208.1 601.1L1208.4 606.2L1208.8 611.6L1209.2 617.2L1209.6 623.1L1210 629.2L1210.3 635.5L1210.7 642L1211.1 648.7L1211.5 655.6L1211.9 662.5L1212.3 669.7L1212.6 676.9L1213 684.1L1213.4 691.5L1213.8 698.9L1214.2 706.3L1214.5 713.7L1214.9 721.1L1215.3 728.5L1215.7 735.7L1216.1 742.9L1216.5 750.1L1216.8 757L1217.2 763.9L1217.6 770.6L1218 777.1L1218.4 783.4L1218.7 789.5L1219.1 795.4L1219.5 801L1219.9 806.4L1220.3 811.5L1220.6 816.3L1221 820.9L1221.4 825.1L1221.8 828.9L1222.2 832.5L1222.6 835.7L1222.9 838.5L1223.3 841L1223.7 843.1L1224.1 844.8L1224.5 846.2L1224.8 847.1L1225.2 847.7L1225.6 847.9L1226 847.7L1226.4 847.1L1226.8 846.2L1227.1 844.8L1227.5 843.1L1227.9 841L1228.3 838.5L1228.7 835.7L1229 832.5L1229.4 828.9L1229.8 825.1L1230.2 820.9L1230.6 816.3L1230.9 811.5L1231.3 806.4L1231.7 801L1232.1 795.4L1232.5 789.5L1232.9 783.4L1233.2 777.1L1233.6 770.6L1234 763.9L1234.4 757L1234.8 750.1L1235.1 742.9L1235.5 735.7L1235.9 728.5L1236.3 721.1L1236.7 713.7L1237 706.3L1237.4 698.9L1237.8 691.5L1238.2 684.1L1238.6 676.9L1239 669.7L1239.3 662.5L1239.7 655.6L1240.1 648.7L1240.5 642L1240.9 635.5L1241.2 629.2L1241.6 623.1L1242 617.2L1242.4 611.6L1242.8 606.2L1243.2 601.1L1243.5 596.3L1243.9 591.7L1244.3 587.5L1244.7 583.7L1245.1 580.1L1245.4 576.9L1245.8 574.1L1246.2 571.6L1246.6 569.5L1247 567.8L1247.3 566.4L1247.7 565.5L1248.1 564.9L1248.5 564.7L1248.9 564.9L1249.3 565.5L1249.6 566.4L1250 567.8L1250.4 569.5L1250.8 571.6L1251.2 574.1L1251.5 576.9L1251.9 580.1L1252.3 583.7L1252.7 587.5L1253.1 591.7L1253.5 596.3L1253.8 601.1L1254.2 606.2L1254.6 611.6L1255 617.2L1255.4 623.1L1255.7 629.2L1256.1 635.5L1256.5 642L1256.9 648.7L1257.3 655.6L1257.6 662.5L1258 669.7L1258.4 676.9L1258.8 684.1L1259.2 691.5L1259.6 698.9L1259.9 706.3L1260.3 713.7L1260.7 721.1L1261.1 728.5L1261.5 735.7L1261.8 742.9L1262.2 750.1L1262.6 757L1263 763.9L1263.4 770.6L1263.8 777.1L1264.1 783.4L1264.5 789.5L1264.9 795.4L1265.3 801L1265.7 806.4L1266 811.5L1266.4 816.3L1266.8 820.9L1267.2 825.1L1267.6 828.9L1267.9 832.5L1268.3 835.7L1268.7 838.5L1269.1 841L1269.5 843.1L1269.9 844.8L1270.2 846.2L1270.6 847.1L1271 847.7L1271.4 847.9L1271.8 847.7L1272.1 847.1L1272.5 846.2L1272.9 844.8L1273.3 843.1L1273.7 841L1274.1 838.5L1274.4 835.7L1274.8 832.5L1275.2 828.9L1275.6 825.1L1276 820.9L1276.3 816.3L1276.7 811.5L1277.1 806.4L1277.5 801L1277.9 795.4L1278.2 789.5L1278.6 783.4L1279 777.1L1279.4 770.6L1279.8 763.9L1280.2 757L1280.5 750.1L1280.9 742.9L1281.3 735.7L1281.7 728.5L1282.1 721.1L1282.4 713.7L1282.8 706.3L1283.2 698.9L1283.6 691.5L1284 684.1L1284.4 676.9L1284.7 669.7L1285.1 662.5L1285.5 655.6L1285.9 648.7L1286.3 642L1286.6 635.5L1287 629.2L1287.4 623.1L1287.8 617.2L1288.2 611.6L1288.5 606.2L1288.9 601.1L1289.3 596.3L1289.7 591.7L1290.1 587.5L1290.5 583.7L1290.8 580.1L1291.2 576.9L1291.6 574.1L1292 571.6L1292.4 569.5L1292.7 567.8L1293.1 566.4L1293.5 565.5L1293.9 564.9L1294.3 564.7L1294.7 564.9L1295 565.5L1295.4 566.4L1295.8 567.8L1296.2 569.5L1296.6 571.6L1296.9 574.1L1297.3 576.9L1297.7 580.1L1298.1 583.7L1298.5 587.5L1298.8 591.7L1299.2 596.3L1299.6 601.1L1300 606.2L1300.4 611.6L1300.8 617.2L1301.1 623.1L1301.5 629.2L1301.9 635.5L1302.3 642L1302.7 648.7L1303 655.6L1303.4 662.5L1303.8 669.7L1304.2 676.9L1304.6 684.1L1304.9 691.5L1305.3 698.9L1305.7 706.3L1306.1 713.7L1306.5 721.1L1306.9 728.5L1307.2 735.7L1307.6 742.9L1308 750.1L1308.4 757L1308.8 763.9L1309.1 770.6L1309.5 777.1L1309.9 783.4L1310.3 789.5L1310.7 795.4L1311.1 801L1311.4 806.4L1311.8 811.5L1312.2 816.3L1312.6 820.9L1313 825.1L1313.3 828.9L1313.7 832.5L1314.1 835.7L1314.5 838.5L1314.9 841L1315.2 843.1L1315.6 844.8L1316 846.2L1316.4 847.1L1316.8 847.7L1317.2 847.9L1317.5 847.7L1317.9 847.1L1318.3 846.2L1318.7 844.8L1319.1 843.1L1319.4 841L1319.8 838.5L1320.2 835.7L1320.6 832.5L1321 828.9L1321.4 825.1L1321.7 820.9L1322.1 816.3L1322.5 811.5L1322.9 806.4L1323.3 801L1323.6 795.4L1324 789.5L1324.4 783.4L1324.8 777.1L1325.2 770.6L1325.5 763.9L1325.9 757L1326.3 750.1L1326.7 742.9L1327.1 735.7L1327.5 728.5L1327.8 721.1L1328.2 713.7L1328.6 706.3" stroke="#000" stroke-width="1.4" fill="none" stroke-linejoin="round"/>
<rect x="963.2" y="551.1" width="46.3" height="298.3" fill="none" stroke="#333" stroke-width="2.8"/>
</g>
<path d="M486 78.2H866" stroke="#000" stroke-width="4.6" fill="none"/>
<path d="M864.5 71L878 78.2L864.5 85.4Z" fill="#000"/>
<path d="M1378.3 0L1379.8 924" stroke="#000" stroke-width="4.6" fill="none"/>
<path d="M1372.8 922L1379.8 936.5L1386.8 922Z" fill="#000"/>
<text class="a h" x="163.6" y="100">LPR 32 kHz</text>
<text class="a h" x="1027.8" y="98.4">LPR 50 kHz</text>
<text class="a h" x="574.5" y="401.5">LMR 1 kHz</text>
<text class="a h" x="575.6" y="832">LMR 8 kHz</text>
<text class="a t" x="497.7" y="133.4">increased number</text>
<text class="a t" x="542.5" y="187.6">of pulses per</text>
<text class="a t" x="522" y="241.2">stimulation unit</text>
<text class="a l" x="177" y="477">Time [ms]</text>
<text class="a l" x="177" y="915.1">Time [ms]</text>
<text class="a l" x="1094.6" y="481.5">Time [ms]</text>
<text class="a l" x="1094.6" y="919.3">Time [ms]</text>
<text class="a l" transform="translate(39.5 342.5) rotate(-90)">Amplitude</text>
<text class="a l" transform="translate(925.9 342.5) rotate(-90)">Amplitude</text>
<text class="a l" transform="translate(28.7 782.4) rotate(-90)">Amplitude</text>
<text class="a l" transform="translate(925.9 782.0) rotate(-90)">Amplitude</text>
<text class="a t" style="font-size:44.87px" transform="translate(1461.8 59) rotate(90)">decreaseed numberof pulses per period,</text>
<text class="a t" style="font-size:44.95px" transform="translate(1407.6 2.8) rotate(90)">constant number of pulses per stimulation unit</text>
<text class="n o" x="70.8" y="141.1">1</text>
<text class="n" x="70.6" y="412">0</text>
<text class="n" x="91.3" y="436.7">0</text>
<text class="n o" x="444.3" y="436.2">1</text>
<text class="n o" x="947.9" y="145.1">1</text>
<text class="n" x="947.8" y="415.9">0</text>
<text class="n" x="968.4" y="440.7">0</text>
<text class="n o" x="1321.6" y="439.7">1</text>
<text class="n o" x="64.8" y="576.4">1</text>
<text class="n" x="63.8" y="847.3">0</text>
<text class="n" x="91.6" y="872">0</text>
<text class="n o" x="446.3" y="871.6">1</text>
<text class="n o" x="938.7" y="581.5">1</text>
<text class="n" x="938.5" y="852.6">0</text>
<text class="n" x="959.3" y="877.4">0</text>
<text class="n o" x="1312.3" y="876.9">1</text>
</svg></body></html>
